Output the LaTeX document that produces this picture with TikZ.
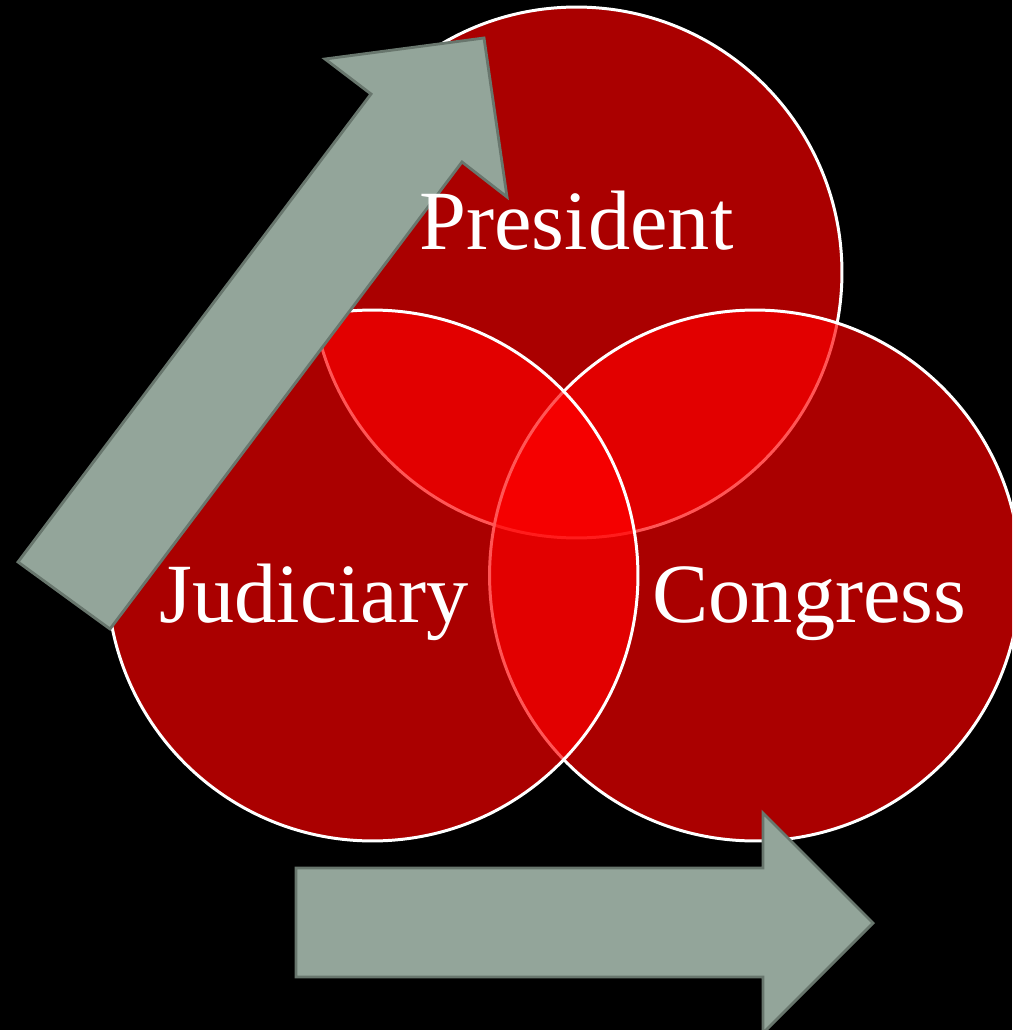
\documentclass[tikz,border=0pt]{standalone}
\usepackage{fontspec}
\setmainfont{Liberation Serif}
\usepackage{xcolor}
\usetikzlibrary{calc}

\definecolor{arrowgray}{RGB}{147,165,154}
\definecolor{arrowedge}{RGB}{104,118,109}

\tikzset{
  branch/.style={fill=red, fill opacity=0.667, draw=white, draw opacity=1, line width=1.7pt},
  bigarrow/.style={fill=arrowgray, draw=arrowedge, line width=1.6pt, line join=miter},
  branchname/.style={text=white, anchor=base, inner sep=0pt, font=\fontsize{48}{58}\selectfont}
}

\begin{document}
\begin{tikzpicture}[x=0.02cm, y=-0.02cm]
                % background
                \fill[black] (0,0) rectangle (1012,1030);
                \useasboundingbox (0,0) rectangle (1012,1030);
                \clip (0,0) rectangle (1012,1030);
                % the three branches
                \draw[branch] (576.5,272.5) circle(5.31cm);
                \draw[branch] (755,575.5) circle(5.31cm);
                \draw[branch] (372.5,575.5) circle(5.31cm);
                % arrows
                \draw[bigarrow] (18,562) -- (371,94) -- (325,59) -- (484,38)
                    -- (507,197) -- (462,162) -- (110,629) -- cycle;
                \draw[bigarrow] (296,868) -- (763,868) -- (763,813) -- (873,923)
                    -- (763,1033) -- (763,977) -- (296,977) -- cycle;
                % labels
                \node[branchname] (president) at (576.5,250) {President};
                \node[branchname] (judiciary) at (314,622) {Judiciary};
                \node[branchname] (congress) at (809.5,622) {Congress};
\end{tikzpicture}
\end{document}
